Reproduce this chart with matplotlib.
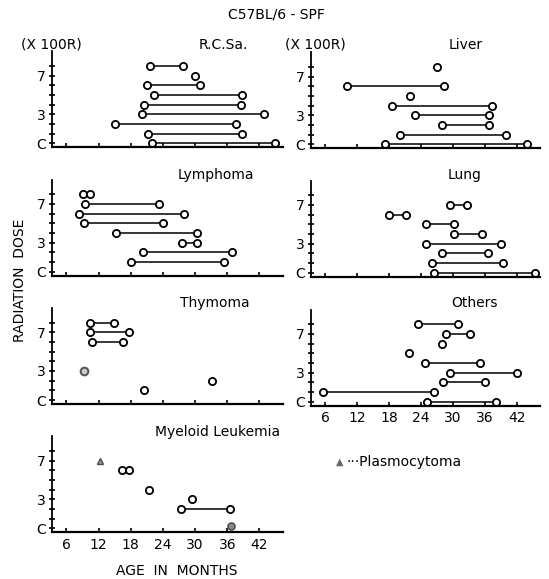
import matplotlib
matplotlib.use('Agg')
import matplotlib.pyplot as plt

W, H = 549, 579

# (dose row, first age, last age); last age None = single animal
RCSA = [(8, 21.5, 27.7), (7, 30.0, None), (6, 21.0, 31.0), (5, 22.3, 38.7),
        (4, 20.4, 38.6), (3, 20.1, 42.8), (2, 15.1, 37.6), (1, 21.3, 38.7),
        (0, 22.0, 45.0)]
LIVER = [(8, 27.0, None), (6, 10.0, 28.3), (5, 21.9, None), (4, 18.6, 37.3),
         (3, 22.8, 36.8), (2, 27.9, 36.8), (1, 20.0, 40.0), (0, 17.2, 44.0)]
LYMPHOMA = [(8, 9.1, None), (8, 10.4, None), (7, 9.5, 23.2), (6, 8.3, 27.9),
            (5, 9.3, 24.0), (4, 15.3, 30.3), (3, 27.6, 30.3), (2, 20.2, 36.8),
            (1, 18.1, 35.4)]
LUNG = [(7, 29.4, 32.7), (6, 18.0, 21.1), (5, 24.9, 30.2), (4, 30.2, 35.4),
        (3, 24.9, 39.1), (2, 27.9, 36.7), (1, 26.0, 39.5), (0, 26.4, 45.5)]
THYMOMA = [(8, 10.4, 14.9), (7, 10.4, 17.6), (6, 10.8, 16.5),
           (1, 20.4, None), (2, 33.2, None)]
THYMOMA_GREY = [(3, 9.3)]
OTHERS = [(8, 23.4, 30.9), (7, 28.8, 33.2), (6, 28.0, None), (5, 21.8, None),
          (4, 24.8, 35.1), (3, 29.5, 42.0), (2, 28.2, 36.1), (1, 5.5, 26.4),
          (0, 25.1, 38.2)]
MYELOID = [(6, 16.3, None), (6, 17.6, None), (4, 21.4, None), (3, 29.5, None),
           (2, 27.4, 36.6)]
PLASMO = [(7, 12.2)]          # triangle (plasmocytoma)
MYELOID_GREY = [(0.2, 36.7)]  # shaded point at control

AGE_TICKS = [6, 12, 18, 24, 30, 36, 42]
DOSE_TICKS = [0, 3, 7]
DOSE_LABELS = ['C', '3', '7']

FS = 10


def px(x, y):
    return x / W, 1 - y / H


def make_ax(left, c_row, right, show_x=False):
    # c_row = pixel y of the "C" row
    bottom = c_row + 3.9
    top = c_row - 92
    ax = fig.add_axes([left / W, 1 - bottom / H, (right - left) / W, (bottom - top) / H])
    ax.set_xlim(3.3, 46.4)
    ax.set_ylim(-0.4, 9.5)
    for s in ['top', 'right']:
        ax.spines[s].set_visible(False)
    ax.spines['left'].set_linewidth(1.3)
    ax.spines['bottom'].set_linewidth(1.6)
    ax.set_yticks(range(9), minor=True)
    ax.set_yticks(DOSE_TICKS)
    ax.set_yticklabels(DOSE_LABELS, fontsize=FS)
    ax.tick_params(axis='y', which='both', direction='inout', length=5, width=1.2, pad=2)
    ax.set_xticks(AGE_TICKS)
    ax.tick_params(axis='x', direction='in', length=3, width=1.2, pad=4)
    if show_x:
        ax.set_xticklabels([str(t) for t in AGE_TICKS], fontsize=FS)
    else:
        ax.set_xticklabels([])
    return ax


def draw_rows(ax, rows):
    for dose, a, b in rows:
        if b is None:
            ax.plot([a], [dose], 'o', mfc='white', mec='black', ms=5.2, mew=1.3,
                    clip_on=False)
        else:
            ax.plot([a, b], [dose, dose], '-o', color='black', lw=1.1,
                    mfc='white', mec='black', ms=5.2, mew=1.3, clip_on=False)


fig = plt.figure(figsize=(W / 100, H / 100), dpi=100)

ax1 = make_ax(52, 143.3, 283)
draw_rows(ax1, RCSA)
ax2 = make_ax(311, 144.3, 540)
draw_rows(ax2, LIVER)
ax3 = make_ax(52, 271.7, 283)
draw_rows(ax3, LYMPHOMA)
ax4 = make_ax(311, 272.7, 540)
draw_rows(ax4, LUNG)
ax5 = make_ax(52, 400, 283)
draw_rows(ax5, THYMOMA)
for d, a in THYMOMA_GREY:
    ax5.plot([a], [d], 'o', mfc='0.8', mec='0.35', ms=5.5, mew=1.5)
ax6 = make_ax(311, 401.7, 540, show_x=True)
draw_rows(ax6, OTHERS)
ax7 = make_ax(52, 528.3, 283, show_x=True)
draw_rows(ax7, MYELOID)
for d, a in PLASMO:
    ax7.plot([a], [d], '^', mfc='0.6', mec='0.3', ms=4.5, mew=1)
for d, a in MYELOID_GREY:
    ax7.plot([a], [d], 'o', mfc='0.55', mec='0.3', ms=5, mew=1.2)

txt = [
    (276, 15, 'C57BL/6 - SPF'),
    (51, 45, '(X 100R)'),
    (315, 45, '(X 100R)'),
    (223, 45, 'R.C.Sa.'),
    (466, 45, 'Liver'),
    (216, 175, 'Lymphoma'),
    (465, 175, 'Lung'),
    (215, 303, 'Thymoma'),
    (474, 303, 'Others'),
    (218, 432, 'Myeloid Leukemia'),
    (177, 571, 'AGE  IN  MONTHS'),
]
for x, y, s in txt:
    fig.text(*px(x, y), s, ha='center', va='center', fontsize=FS)

fig.text(*px(20, 280), 'RADIATION  DOSE', rotation=90, ha='center', va='center', fontsize=FS)
fig.text(*px(336, 462), '▲', ha='left', va='center', fontsize=7, color='0.4')
fig.text(*px(346, 462), '···Plasmocytoma', ha='left', va='center', fontsize=FS)

fig.savefig('out.png', dpi=100)
